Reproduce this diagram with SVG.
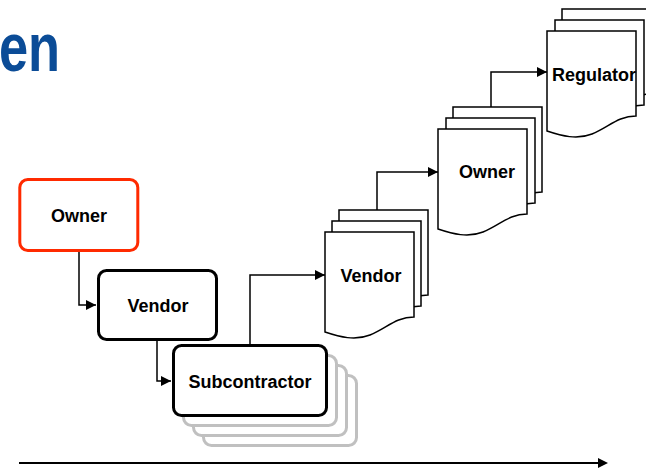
<svg xmlns="http://www.w3.org/2000/svg" xmlns:xlink="http://www.w3.org/1999/xlink" width="646" height="471" viewBox="0 0 646 471">
<style>
  .lbl{font-family:"Liberation Sans",Arial,sans-serif;font-weight:bold;font-size:18px;fill:#000;text-anchor:middle}
  .box{fill:#fff;stroke:#000;stroke-width:3}
  .ghost{fill:#fff;stroke:#c0c0c0;stroke-width:3}
  .doc{fill:#fff;stroke:#000;stroke-width:1.5}
  .conn{fill:none;stroke:#000;stroke-width:1.5}
</style>
<defs>
  <path id="docshape" d="M0,0 H89 V85 C71,85 62,96 45,103 C30,109 15,105 0,100 Z"/>
  <marker id="arr" viewBox="0 0 10 10" refX="10" refY="5" markerWidth="10" markerHeight="10" markerUnits="userSpaceOnUse" orient="auto">
    <path d="M0,0 L10,5 L0,10 Z" fill="#000"/>
  </marker>
</defs>
<rect width="646" height="471" fill="#fff"/>
<text transform="translate(-1,71) scale(0.77,1)" font-family="Liberation Sans,Arial,sans-serif" font-weight="bold" font-size="68" fill="#0b4c97">en</text>

<g id="connectors">
  <path class="conn" d="M79,252 V305 H96" marker-end="url(#arr)"/>
  <path class="conn" d="M157,340 V381 H171" marker-end="url(#arr)"/>
  <path class="conn" d="M250,344 V275 H325" marker-end="url(#arr)"/>
  <path class="conn" d="M377,210 V172 H438" marker-end="url(#arr)"/>
  <path class="conn" d="M491,108 V72 H547" marker-end="url(#arr)"/>
  <path d="M19,463 H598" stroke="#000" stroke-width="2" fill="none"/>
  <path d="M598,458 L608,463 L598,468 Z" fill="#000"/>
</g>

<g id="owner1">
  <rect x="19.8" y="179.5" width="118" height="71" rx="8" fill="#fff" stroke="#ff2a00" stroke-width="3"/>
  <text class="lbl" x="79" y="222">Owner</text>
</g>
<g id="vendor1">
  <rect class="box" x="98.5" y="270.5" width="118" height="69" rx="8"/>
  <text class="lbl" x="158" y="312">Vendor</text>
</g>
<g id="subcontractor">
  <rect class="ghost" x="203.5" y="375.5" width="153" height="70" rx="8"/>
  <rect class="ghost" x="193.5" y="365.5" width="153" height="70" rx="8"/>
  <rect class="ghost" x="183.5" y="355.5" width="153" height="70" rx="8"/>
  <rect class="box" x="173.5" y="345.5" width="153" height="70" rx="8"/>
  <text class="lbl" x="250" y="388">Subcontractor</text>
</g>
<g id="vendor2">
  <use xlink:href="#docshape" class="doc" x="339" y="210"/>
  <use xlink:href="#docshape" class="doc" x="332" y="221"/>
  <use xlink:href="#docshape" class="doc" x="325" y="232"/>
  <text class="lbl" x="371" y="282">Vendor</text>
</g>
<g id="owner2">
  <use xlink:href="#docshape" class="doc" x="453" y="107"/>
  <use xlink:href="#docshape" class="doc" x="446" y="118"/>
  <use xlink:href="#docshape" class="doc" x="438" y="129"/>
  <text class="lbl" x="487" y="178">Owner</text>
</g>
<g id="regulator">
  <use xlink:href="#docshape" class="doc" x="562" y="9"/>
  <use xlink:href="#docshape" class="doc" x="555" y="20"/>
  <use xlink:href="#docshape" class="doc" x="547" y="31"/>
  <text class="lbl" x="594" y="81">Regulator</text>
</g>
</svg>
